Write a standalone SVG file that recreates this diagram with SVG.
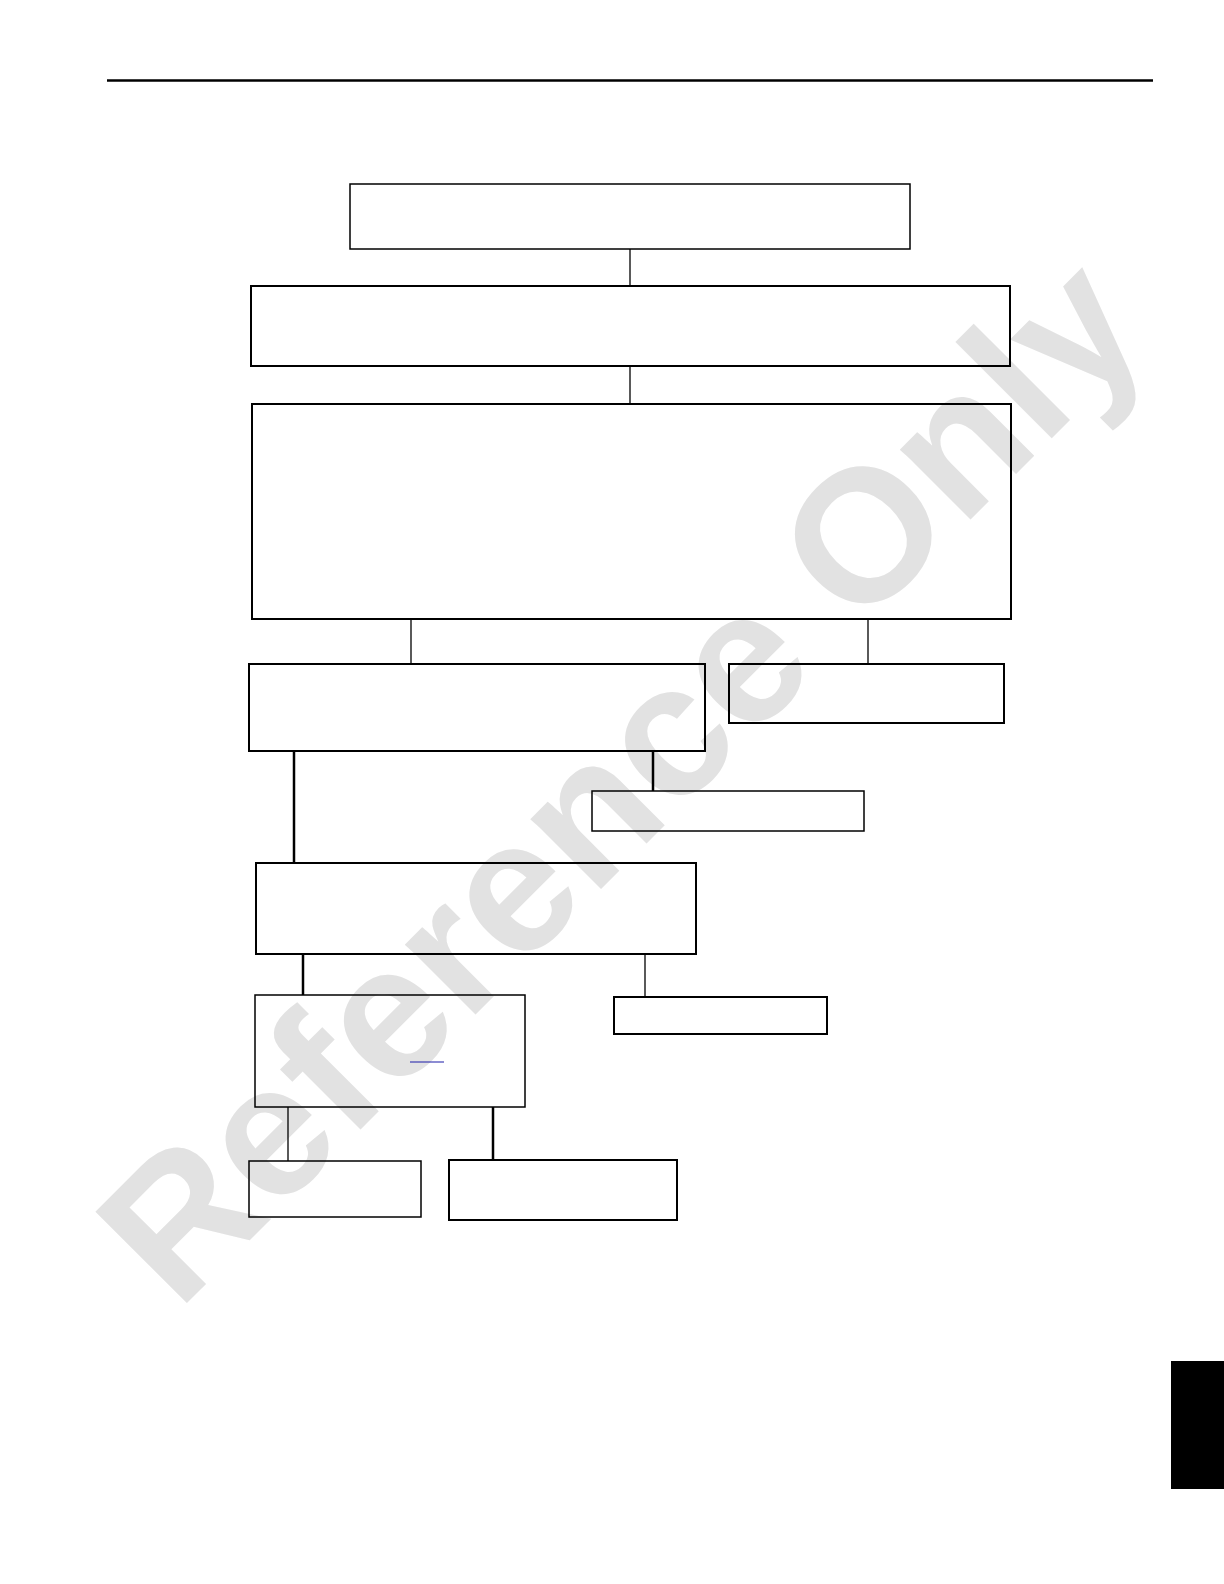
<svg xmlns="http://www.w3.org/2000/svg" width="1224" height="1584" viewBox="0 0 1224 1584">
<style>
.box{fill:none;stroke:#000;stroke-width:2}
.thin{fill:none;stroke:#000;stroke-width:1.5}
.con{stroke:#000;stroke-width:1.3;fill:none}
.conb{stroke:#000;stroke-width:2.5;fill:none}
.wm{font-family:"Liberation Sans",Arial,sans-serif;font-weight:bold;font-size:188px;fill:#e2e2e2}
</style>
<rect width="1224" height="1584" fill="#fff"/>
<text class="wm" transform="translate(178,1312) rotate(-45)">Reference Only</text>
<line x1="107" y1="80.5" x2="1153" y2="80.5" stroke="#000" stroke-width="2.5"/>
<g id="connectors">
<line class="con" x1="630" y1="249" x2="630" y2="286"/>
<line class="con" x1="630" y1="366" x2="630" y2="404"/>
<line class="con" x1="411" y1="619" x2="411" y2="664"/>
<line class="con" x1="868" y1="619" x2="868" y2="664"/>
<line class="conb" x1="294" y1="751" x2="294" y2="863"/>
<line class="conb" x1="653" y1="751" x2="653" y2="791"/>
<line class="conb" x1="303" y1="954" x2="303" y2="995"/>
<line class="con" x1="645" y1="954" x2="645" y2="997"/>
<line class="con" x1="288" y1="1107" x2="288" y2="1161"/>
<line class="conb" x1="493" y1="1107" x2="493" y2="1160"/>
</g>
<g id="node1"><rect class="thin" x="350" y="184" width="560" height="65"/></g>
<g id="node2"><rect class="box" x="251" y="286" width="759" height="80"/></g>
<g id="node3"><rect class="box" x="252" y="404" width="759" height="215"/></g>
<g id="node4"><rect class="box" x="249" y="664" width="456" height="87"/></g>
<g id="node5"><rect class="box" x="729" y="664" width="275" height="59"/></g>
<g id="node6"><rect class="thin" x="592" y="791" width="272" height="40"/></g>
<g id="node7"><rect class="box" x="256" y="863" width="440" height="91"/></g>
<g id="node8"><rect class="thin" x="255" y="995" width="270" height="112"/><line x1="410" y1="1062" x2="444" y2="1062" stroke="#1a1aa8" stroke-width="1.2"/></g>
<g id="node9"><rect class="box" x="614" y="997" width="213" height="37"/></g>
<g id="node10"><rect class="thin" x="249" y="1161" width="172" height="56"/></g>
<g id="node11"><rect class="box" x="449" y="1160" width="228" height="60"/></g>
<rect x="1171" y="1361" width="53" height="128" fill="#000"/>
</svg>
